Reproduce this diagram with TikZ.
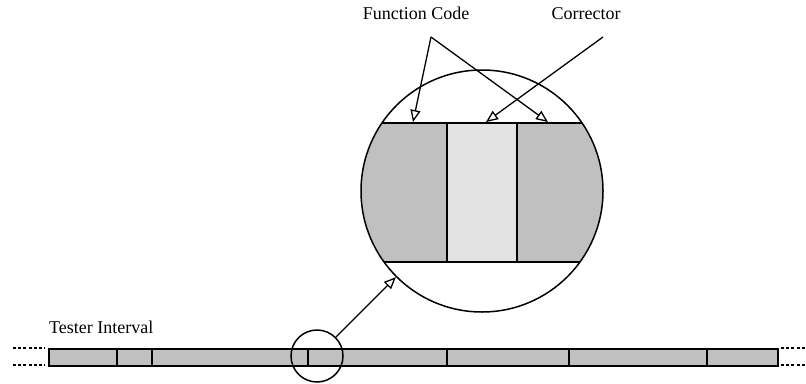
\documentclass[tikz,border=0pt]{standalone}
\usepackage{fontspec}
\setmainfont{Liberation Serif}
\usetikzlibrary{arrows.meta}
\definecolor{segdark}{HTML}{C0C0C0}
\definecolor{seglight}{HTML}{E3E3E3}
\begin{document}
\begin{tikzpicture}[x=1pt,y=-1pt,
  outline/.style={line width=1.5pt, black},
  pointer/.style={line width=1.3pt, -{Triangle[open,length=12pt,width=10pt]}},
  label/.style={font=\fontsize{18}{21}\selectfont, anchor=base, inner sep=0pt},
  dots/.style={line width=1.3pt, dash pattern=on 3pt off 2.2pt}]
\useasboundingbox (0,0) rectangle (806,383);

% magnified view of the code word
\begin{scope}
  \clip (482,191) circle (121);
  \fill[segdark] (300,123) rectangle (447,262);
  \fill[seglight] (447,123) rectangle (517,262);
  \fill[segdark] (517,123) rectangle (660,262);
  \draw[outline] (300,123) -- (660,123);
  \draw[outline] (300,262) -- (660,262);
  \draw[outline] (447,123) -- (447,262);
  \draw[outline] (517,123) -- (517,262);
\end{scope}
\node[circle, draw, outline, minimum size=242pt, inner sep=0pt] (big) at (482,191) {};

% labels
\node[label] (fc) at (416,19) {Function Code};
\node[label] (cr) at (586,19) {Corrector};
\node[label, anchor=base west] (ti) at (49,333) {Tester Interval};

\coordinate (fcsrc) at (431,37);
\coordinate (crsrc) at (603,37);
\coordinate (tipA) at (413,122);
\coordinate (tipB) at (548,122);
\coordinate (tipC) at (486,122);
\draw[pointer] (fcsrc) -- (tipA);
\draw[pointer] (fcsrc) -- (tipB);
\draw[pointer] (crsrc) -- (tipC);

% the tester interval bar
\node[draw, outline, fill=segdark, minimum width=729pt, minimum height=17pt,
      inner sep=0pt, anchor=north west] (bar) at (48,348) {};
\foreach \xx in {117,152,308,447,569,707}
  \draw[outline] (\xx,348) -- (\xx,365);
\draw[dots] (13,348) -- (45,348);
\draw[dots] (13,365) -- (45,365);
\draw[dots] (781,348) -- (806,348);
\draw[dots] (781,365) -- (806,365);

% zoom marker
\node[circle, draw, outline, minimum size=52pt, inner sep=0pt] (small) at (317,356) {};
\draw[pointer] (small.45) -- (big.225);
\end{tikzpicture}
\end{document}
